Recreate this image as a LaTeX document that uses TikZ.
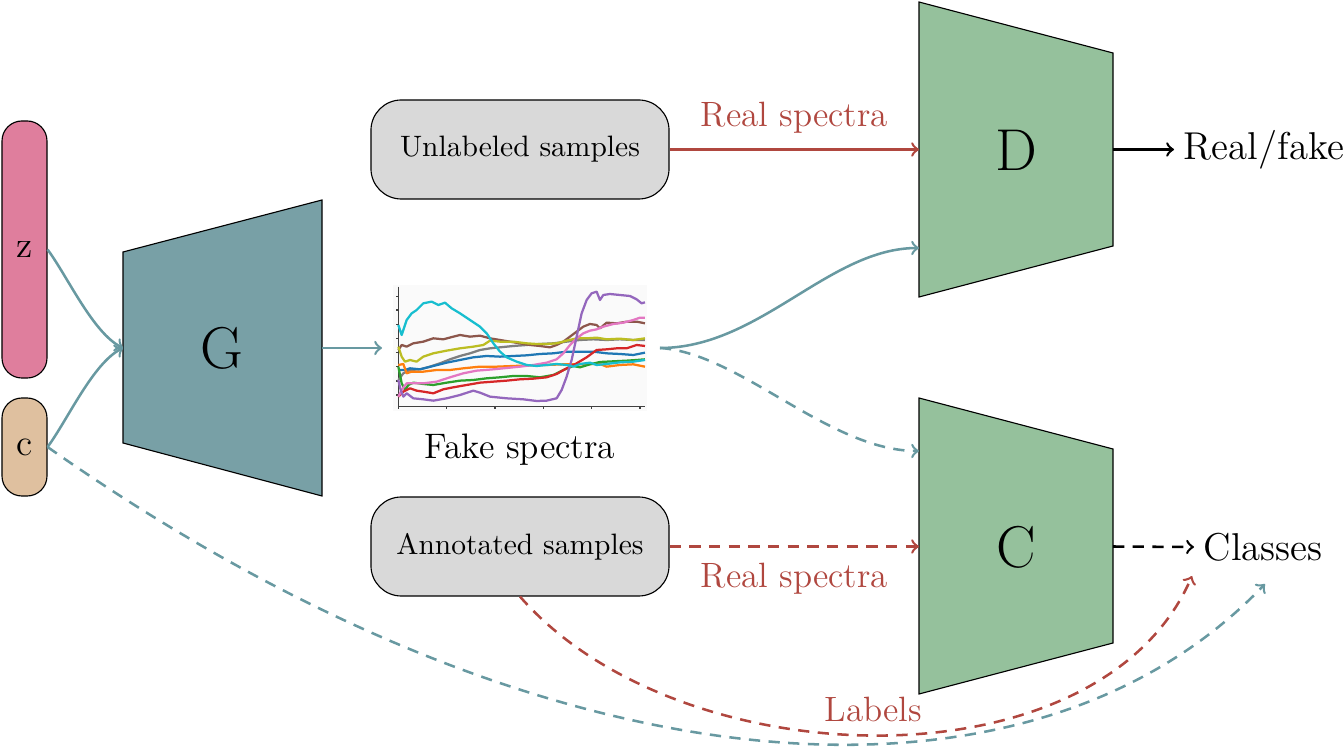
\documentclass[tikz,border=0pt]{standalone}
\usepackage{tikz}
\usepackage{xcolor}
\usetikzlibrary{calc,
	positioning,
	arrows}

\definecolor{zpink}{HTML}{DF7E9D}
\definecolor{ctan}{HTML}{DFC09F}
\definecolor{gteal}{HTML}{78A0A6}
\definecolor{netgreen}{HTML}{95C19C}
\definecolor{boxgray}{HTML}{D9D9D9}
\definecolor{realred}{HTML}{B0473F}
\definecolor{faketeal}{HTML}{6899A1}
\definecolor{tabblue}{HTML}{1F77B4}
\definecolor{taborange}{HTML}{FF7F0E}
\definecolor{tabgreen}{HTML}{2CA02C}
\definecolor{tabred}{HTML}{D62728}
\definecolor{tabpurple}{HTML}{9467BD}
\definecolor{tabbrown}{HTML}{8C564B}
\definecolor{tabpink}{HTML}{E377C2}
\definecolor{tabgray}{HTML}{7F7F7F}
\definecolor{tabolive}{HTML}{BCBD22}
\definecolor{tabcyan}{HTML}{17BECF}

\tikzset{
	inputbar/.style={draw, rounded corners=0.25cm, minimum width=0.5625cm, inner sep=0pt, font=\fontsize{13.2}{16}\selectfont},
	samplebox/.style={draw, fill=boxgray, rounded corners=0.38cm, minimum width=3.725cm, minimum height=1.2375cm, inner sep=0pt, font=\fontsize{10.5}{12}\selectfont},
	netlabel/.style={font=\fontsize{21}{25}\selectfont},
	outlabel/.style={anchor=west, font=\fontsize{13.8}{16}\selectfont},
	linklabel/.style={realred, font=\fontsize{12.5}{14}\selectfont},
	reallink/.style={realred, line width=0.9pt, ->},
	fakelink/.style={faketeal, line width=0.9pt, ->},
	dashlink/.style={dash pattern=on 4pt off 3pt},
	spec/.style={line width=0.8pt, line join=round},
}

\begin{document}
\begin{tikzpicture}[x=0.0125cm, y=-0.0125cm]
            \useasboundingbox (0,0) rectangle (1344,752);

            % noise and condition
            \node[inputbar, fill=zpink, minimum height=3.2125cm] (z) at (24.5,249.5) {z};
            \node[inputbar, fill=ctan, minimum height=1.225cm] (c) at (24.5,447) {c};

            % generator
            \draw[fill=gteal] (123,252) -- (322,200) -- (322,496) -- (123,443) -- cycle;
            \node[netlabel] (G) at (222,348) {G};
            \coordinate (G-in) at (123,348);
            \coordinate (G-out) at (322,348);

            % discriminator
            \draw[fill=netgreen] (919,2) -- (1113,53) -- (1113,246) -- (919,297) -- cycle;
            \node[netlabel] (D) at (1016,150) {D};
            \coordinate (D-real) at (919,149.5);
            \coordinate (D-fake) at (919,248);
            \coordinate (D-out) at (1113,149.5);

            % classifier
            \draw[fill=netgreen] (919,398) -- (1113,449) -- (1113,643) -- (919,694) -- cycle;
            \node[netlabel] (C) at (1016,547) {C};
            \coordinate (C-real) at (919,546.5);
            \coordinate (C-fake) at (919,451);
            \coordinate (C-out) at (1113,546.5);

            % samples
            \node[samplebox] (unlabeled) at (520,149.5) {Unlabeled samples};
            \node[samplebox] (annotated) at (520,546.5) {Annotated samples};

            % outputs
            \node[outlabel] (realfake) at (1174,149.5) {Real/fake};
            \node[outlabel] (classes) at (1194,547) {Classes};
            \coordinate (classes-l) at (1192,576);
            \coordinate (classes-c) at (1265,584);

            % fake spectra
            \begin{scope}[shift={(380,270)}, scale=0.3333]
                \fill[black!2] (40,45) rectangle (800,422);
                \draw[black!75] (55,50) -- (55,410) -- (795,410);
                \foreach \t in {80,120,163,205,248,290,333,375}
                    \draw[black!75] (55,\t) -- (47,\t);
                \foreach \t in {55,200,345,490,635,780}
                    \draw[black!75] (\t,410) -- (\t,418);
                \draw[spec, tabgray] (55,330) -- (70,310) -- (90,300) -- (120,298) -- (150,290) -- (180,280) -- (210,268) -- (240,258) -- (270,250) -- (300,240) -- (330,235) -- (360,232) -- (400,228) -- (440,225) -- (480,222) -- (520,220) -- (560,215) -- (600,210) -- (640,208) -- (680,210) -- (720,208) -- (760,210) -- (795,210);
                \draw[spec, tabbrown] (55,240) -- (65,225) -- (80,230) -- (100,220) -- (130,215) -- (160,205) -- (190,208) -- (220,200) -- (240,195) -- (270,200) -- (300,197) -- (330,205) -- (360,210) -- (390,215) -- (420,220) -- (450,225) -- (480,228) -- (510,232) -- (530,225) -- (550,215) -- (570,200) -- (590,185) -- (610,170) -- (630,162) -- (650,165) -- (660,175) -- (680,158) -- (710,160) -- (740,155) -- (770,155) -- (795,160);
                \draw[spec, tabolive] (55,230) -- (65,260) -- (75,275) -- (90,270) -- (110,275) -- (130,260) -- (160,250) -- (200,242) -- (240,235) -- (280,230) -- (310,225) -- (330,212) -- (360,215) -- (400,215) -- (440,220) -- (470,222) -- (500,222) -- (530,220) -- (560,212) -- (590,205) -- (620,205) -- (650,203) -- (680,208) -- (720,206) -- (760,210) -- (795,205);
                \draw[spec, tabblue] (55,300) -- (75,300) -- (90,295) -- (120,298) -- (160,288) -- (200,278) -- (240,270) -- (280,262) -- (320,258) -- (360,260) -- (400,258) -- (440,256) -- (480,252) -- (520,250) -- (560,245) -- (600,245) -- (640,245) -- (680,250) -- (720,252) -- (760,255) -- (795,248);
                \draw[spec, taborange] (55,285) -- (70,282) -- (80,310) -- (95,305) -- (130,305) -- (170,300) -- (210,300) -- (250,295) -- (300,290) -- (350,290) -- (400,288) -- (450,286) -- (500,285) -- (550,283) -- (600,283) -- (640,282) -- (660,282) -- (680,290) -- (720,285) -- (760,283) -- (795,290);
                \draw[spec, tabgreen] (55,290) -- (65,340) -- (75,360) -- (85,345) -- (100,338) -- (130,342) -- (160,345) -- (200,338) -- (240,332) -- (280,330) -- (320,325) -- (360,322) -- (400,318) -- (440,318) -- (480,322) -- (520,315) -- (550,300) -- (580,288) -- (600,292) -- (630,283) -- (660,276) -- (700,274) -- (740,272) -- (770,270) -- (795,268);
                \draw[spec, tabred] (55,380) -- (70,365) -- (90,355) -- (110,362) -- (130,365) -- (160,370) -- (190,358) -- (220,352) -- (260,345) -- (300,338) -- (340,335) -- (380,332) -- (420,328) -- (460,326) -- (500,322) -- (530,312) -- (560,295) -- (590,280) -- (620,262) -- (650,240) -- (680,238) -- (710,235) -- (740,235) -- (770,225) -- (795,228);
                \draw[spec, tabpink] (55,380) -- (65,360) -- (80,340) -- (100,340) -- (130,340) -- (170,335) -- (210,322) -- (250,310) -- (290,302) -- (340,298) -- (380,294) -- (420,290) -- (460,285) -- (500,278) -- (530,268) -- (550,250) -- (570,225) -- (590,205) -- (610,190) -- (630,182) -- (650,178) -- (670,170) -- (700,162) -- (730,158) -- (760,150) -- (780,143) -- (795,143);
                \draw[spec, tabpurple] (55,330) -- (62,360) -- (70,380) -- (80,370) -- (100,385) -- (130,388) -- (160,392) -- (200,385) -- (240,375) -- (280,362) -- (300,368) -- (330,380) -- (380,385) -- (430,388) -- (470,393) -- (500,392) -- (530,385) -- (545,360) -- (560,320) -- (575,270) -- (590,200) -- (605,130) -- (620,90) -- (635,70) -- (650,65) -- (660,90) -- (670,75) -- (690,72) -- (720,75) -- (750,78) -- (770,88) -- (785,100) -- (795,97);
                \draw[spec, tabcyan] (55,165) -- (65,195) -- (80,150) -- (95,130) -- (110,120) -- (130,100) -- (155,95) -- (175,105) -- (195,98) -- (215,115) -- (240,130) -- (270,150) -- (300,170) -- (320,190) -- (340,220) -- (360,245) -- (380,262) -- (410,275) -- (440,285) -- (470,288) -- (500,285) -- (530,282) -- (560,285) -- (580,290) -- (600,282) -- (630,278) -- (650,285) -- (680,282) -- (720,277) -- (760,275) -- (795,270);
            \end{scope}
            \node[font=\fontsize{12.6}{14}\selectfont] (fake) at (520,450) {Fake spectra};
            \coordinate (spec-in) at (382,348);
            \coordinate (spec-out) at (660,348);

            % generator links
            \draw[fakelink] (z.east) .. controls +(20,27) and +(-30,-15) .. (G-in);
            \draw[fakelink] (c.east) .. controls +(20,-27) and +(-30,15) .. (G-in);
            \draw[fakelink] (G-out) -- (spec-in);
            \draw[fakelink] (spec-out) .. controls +(100,0) and +(-90,0) .. (D-fake);
            \draw[fakelink, dashlink] (spec-out) .. controls +(80,5) and +(-90,0) .. (C-fake);
            \draw[fakelink, dashlink] (c.east) .. controls (550,800) and (1030,830) .. (classes-c);

            % real links
            \draw[reallink] (unlabeled.east) -- node[linklabel, above=2pt] {Real spectra} (D-real);
            \draw[reallink, dashlink] (annotated.east) -- node[linklabel, below=2pt] {Real spectra} (C-real);
            \draw[reallink, dashlink] (annotated.south) .. controls (680,780) and (1100,790) .. node[linklabel, pos=0.49, above=1pt] {Labels} (classes-l);

            % outputs
            \draw[line width=0.9pt, ->] (D-out) -- (realfake.west);
            \draw[line width=0.9pt, dashlink, ->] (C-out) -- (classes.west);
        \end{tikzpicture}
\end{document}
